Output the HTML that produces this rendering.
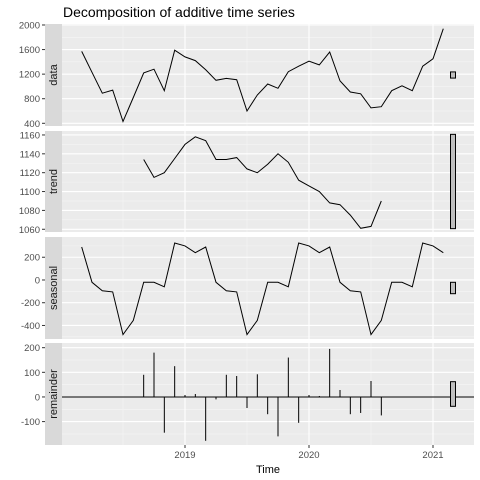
<!DOCTYPE html>
<html><head><meta charset="utf-8"><style>
body{margin:0;background:#fff;}
svg{display:block;font-family:"Liberation Sans",Arial,sans-serif;}
</style></head><body>
<svg id="c" width="480" height="480"></svg>
<script>
const months = 36; // Mar 2018 .. Feb 2021
const startYear = 2018 + 2/12;
const dataVals = [1570,1230,890,940,430,820,1220,1280,930,1590,1480,1420,1270,1100,1130,1110,600,860,1040,970,1240,1330,1410,1350,1560,1090,910,880,650,670,930,1010,930,1330,1450,1940];
const trendVals = [1134,1115,1120,1135,1150,1158,1154,1134,1134,1136,1124,1120,1129,1140,1131,1112,1106,1100,1088,1086,1075,1061,1063,1090];
const seasonalPattern = [290,-20,-95,-105,-480,-355,-20,-20,-60,325,300,240];
const remainderVals = [90,180,-145,125,8,12,-178,-10,90,85,-45,92,-70,-160,160,-105,8,4,195,28,-70,-65,65,-75];
const xTicks = [2019,2020,2021];
const dataTicks = [400,800,1200,1600,2000];
const trendTicks = [1060,1080,1100,1120,1140,1160];
const seasonalTicks = [-400,-200,0,200];
const remainderTicks = [-100,0,100,200];

const NS="http://www.w3.org/2000/svg";
const svg=document.getElementById('c');
function mk(tag,attrs,parent){const e=document.createElementNS(NS,tag);for(const k in attrs)e.setAttribute(k,attrs[k]);(parent||svg).appendChild(e);return e;}
const PX0=62,PX1=474;
const xs=t=>185+(t-2019)*124;
const tOf=i=>startYear+i/12;

const panels=[
 {name:'data',top:24,bot:126,min:356,max:2016,ticks:dataTicks,minorStep:200},
 {name:'trend',top:131,bot:232,min:1057.1,max:1164.2,ticks:trendTicks,minorStep:10},
 {name:'seasonal',top:237,bot:339,min:-519,max:378,ticks:seasonalTicks,minorStep:100},
 {name:'remainder',top:343,bot:445,min:-195,max:219,ticks:remainderTicks,minorStep:50}
];
const seasonalVals=[];for(let i=0;i<months;i++)seasonalVals.push(seasonalPattern[i%12]);

const t=mk('text',{x:63,y:17,'font-size':14,fill:'#000'});
t.textContent='Decomposition of additive time series';



panels.forEach(p=>{
 const ys=v=>p.bot-(v-p.min)/(p.max-p.min)*(p.bot-p.top);
 const g=mk('g',{});
 
 
 mk('rect',{x:PX0,y:p.top,width:PX1-PX0,height:p.bot-p.top,fill:'#ebebeb'},g);
 const strip=mk('rect',{x:45,y:p.top,width:17,height:p.bot-p.top,fill:'#d9d9d9'},g);
 
 
 const st=mk('text',{x:0,y:0,'font-size':11,fill:'#1a1a1a','text-anchor':'middle',transform:`translate(57,${(p.top+p.bot)/2}) rotate(-90)`},g);
 st.textContent=p.name;
 
 
 // minor grid
 for(let v=Math.ceil(p.min/p.minorStep)*p.minorStep;v<=p.max;v+=p.minorStep){
  mk('line',{x1:PX0,x2:PX1,y1:ys(v),y2:ys(v),stroke:'#f5f5f5','stroke-width':0.6},g);
 }
 [2018.5,2019.5,2020.5].forEach(x=>mk('line',{x1:xs(x),x2:xs(x),y1:p.top,y2:p.bot,stroke:'#f5f5f5','stroke-width':0.6},g));
 p.ticks.forEach(v=>{
  mk('line',{x1:PX0,x2:PX1,y1:ys(v),y2:ys(v),stroke:'#fff','stroke-width':1.1},g);
  mk('line',{x1:42,x2:45,y1:ys(v),y2:ys(v),stroke:'#333','stroke-width':1},g);
  const tl=mk('text',{x:40,y:ys(v)+3.5,'font-size':9.5,fill:'#4d4d4d','text-anchor':'end'},g);
  tl.textContent=v;
  
  
 });
 xTicks.forEach(x=>mk('line',{x1:xs(x),x2:xs(x),y1:p.top,y2:p.bot,stroke:'#fff','stroke-width':1.1},g));
 // series
 if(p.name==='remainder'){
  mk('line',{x1:PX0,x2:PX1,y1:ys(0),y2:ys(0),stroke:'#000','stroke-width':1},g);
  remainderVals.forEach((v,i)=>{
   const l=mk('line',{x1:xs(tOf(i+6)),x2:xs(tOf(i+6)),y1:ys(0),y2:ys(v),stroke:'#000','stroke-width':1},g);
   
   
  });
 } else {
  const vals=p.name==='data'?dataVals:p.name==='trend'?trendVals:seasonalVals;
  const off=p.name==='trend'?6:0;
  const pts=vals.map((v,i)=>xs(tOf(i+off)).toFixed(1)+','+ys(v).toFixed(1)).join(' ');
  const pl=mk('polyline',{points:pts,fill:'none',stroke:'#000','stroke-width':1},g);
  
  
 }
 // range bar (100 units)
 const c=(p.min+p.max)/2;
 const rb=mk('rect',{x:450.5,y:ys(c+50),width:5,height:ys(c-50)-ys(c+50),fill:'#bfbfbf',stroke:'#000','stroke-width':1},g);
 
 
});
xTicks.forEach(x=>{
 mk('line',{x1:xs(x),x2:xs(x),y1:445,y2:448,stroke:'#333','stroke-width':1});
 const tl=mk('text',{x:xs(x),y:458,'font-size':9.5,fill:'#4d4d4d','text-anchor':'middle'});
 tl.textContent=x;
 
 
});
const xt=mk('text',{x:268,y:473,'font-size':11,fill:'#000','text-anchor':'middle'});
xt.textContent='Time';


</script>
</body></html>
